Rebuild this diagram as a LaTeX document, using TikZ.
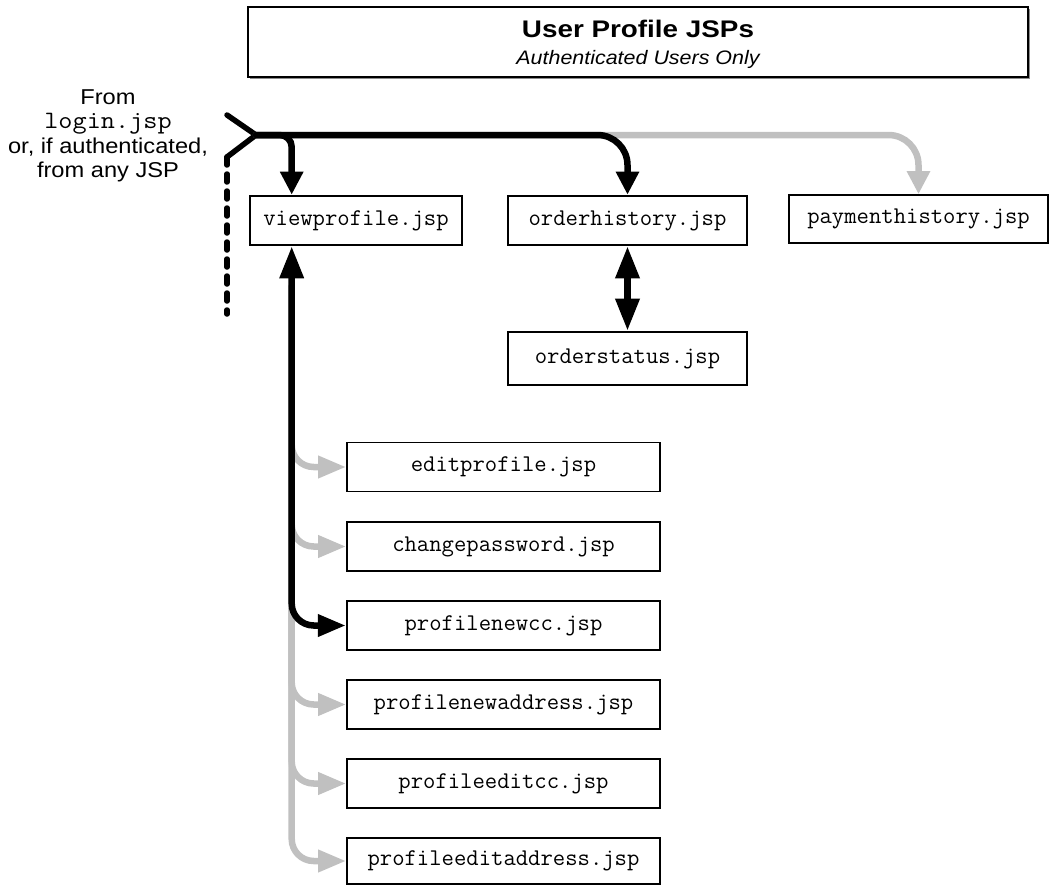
\documentclass[tikz,border=0pt]{standalone}
\usepackage{fontspec}
\setmainfont{Liberation Sans}
\usetikzlibrary{arrows.meta,shadows}
\definecolor{linkgray}{RGB}{192,192,192}
\definecolor{shadowgray}{RGB}{140,140,140}

\begin{document}
\begin{tikzpicture}[x=1pt,y=-1pt,
  jsppage/.style={draw=black, fill=white, inner sep=0pt, minimum height=49pt,
    font=\fontsize{24}{28}\selectfont\ttfamily},
  mainpage/.style={jsppage, line width=2.6pt},
  sidepage/.style={jsppage, line width=1.6pt},
  blackflow/.style={line width=6.5pt, black, line cap=round},
  grayflow/.style={line width=6.5pt, linkgray, line cap=round},
  downhead/.style={-{Triangle[length=23pt,width=22pt]}},
  branchhead/.style={-{Triangle[length=28pt,width=21pt]}},
]
\useasboundingbox (0,0) rectangle (1053,886);

% title banner
\node[draw=black, line width=1.4pt, fill=white, minimum width=780pt, minimum height=70pt,
  drop shadow={shadow xshift=2pt, shadow yshift=-2pt, fill=shadowgray, opacity=1}]
  (titlebox) at (638,42) {};
\node[anchor=base, font=\fontsize{24}{28}\selectfont\bfseries] (title) at (638,37)
  {\scalebox{1.16}[1]{User Profile JSPs}};
\node[anchor=base, font=\fontsize{19.5}{23}\selectfont\itshape] (subtitle) at (638,64)
  {\scalebox{1.1}[1]{Authenticated Users Only}};

% where the user comes from
\node[inner sep=0pt, font=\fontsize{21.5}{24.5}\selectfont] (source) at (108,136)
  {\scalebox{1.1}[1]{\begin{tabular}{@{}c@{}}From\\
   {\fontsize{25}{24.5}\selectfont\ttfamily login.jsp}\\
   or, if authenticated,\\ from any JSP\end{tabular}}};

% pages
\node[mainpage, minimum width=212pt] (viewprofile) at (356,220.5) {viewprofile.jsp};
\node[mainpage, minimum width=239pt] (orderhistory) at (627.5,220.5) {orderhistory.jsp};
\node[sidepage, minimum width=259pt, minimum height=48pt] (paymenthistory) at (918.5,219) {paymenthistory.jsp};
\node[mainpage, minimum width=239pt, minimum height=53pt] (orderstatus) at (627.5,358.5) {orderstatus.jsp};

\node[sidepage, minimum width=313pt] (editprofile) at (503.5,467) {editprofile.jsp};
\node[sidepage, minimum width=313pt] (changepassword) at (503.5,546.5) {changepassword.jsp};
\node[mainpage, line width=2.2pt, minimum width=313pt] (profilenewcc) at (503.5,625.5) {profilenewcc.jsp};
\node[sidepage, minimum width=313pt] (profilenewaddress) at (503.5,704.5) {profilenewaddress.jsp};
\node[sidepage, minimum width=313pt] (profileeditcc) at (503.5,783.5) {profileeditcc.jsp};
\node[sidepage, minimum width=313pt, minimum height=46pt] (profileeditaddress) at (503.5,861) {profileeditaddress.jsp};

% entry chevron and dashed continuation
\coordinate (entry) at (256,135);
\coordinate (chevtop) at (227,115);
\coordinate (chevbot) at (227,157);
\coordinate (dashend) at (227,314);
\draw[line width=5.5pt, line cap=round, line join=miter] (chevtop) -- (entry) -- (chevbot);
\draw[line width=5.5pt, line cap=round, dash pattern=on 8pt off 9pt] (chevbot) -- (dashend);

% optional links (gray)
\draw[grayflow, downhead, rounded corners=30pt] (entry) -| (paymenthistory.north);
\foreach \target in {editprofile,changepassword,profilenewaddress,profileeditcc,profileeditaddress}
  \draw[grayflow, branchhead, rounded corners=22pt, shorten <=40pt]
    ([xshift=43pt]viewprofile.south west) |- (\target.west);

% main links (black)
\draw[blackflow, downhead, rounded corners=30pt] (entry) -| (orderhistory.north);
\draw[blackflow, downhead, rounded corners=12pt] (entry) -| ([xshift=43pt]viewprofile.north west);
\draw[blackflow, {Triangle[length=32pt,width=23pt]}-{Triangle[length=32pt,width=23pt]}]
  (orderhistory.south) -- (orderstatus.north);
\draw[blackflow, {Triangle[length=32pt,width=23pt]}-{Triangle[length=28pt,width=21pt]}, rounded corners=22pt]
  ([xshift=43pt]viewprofile.south west) |- (profilenewcc.west);
\end{tikzpicture}
\end{document}
